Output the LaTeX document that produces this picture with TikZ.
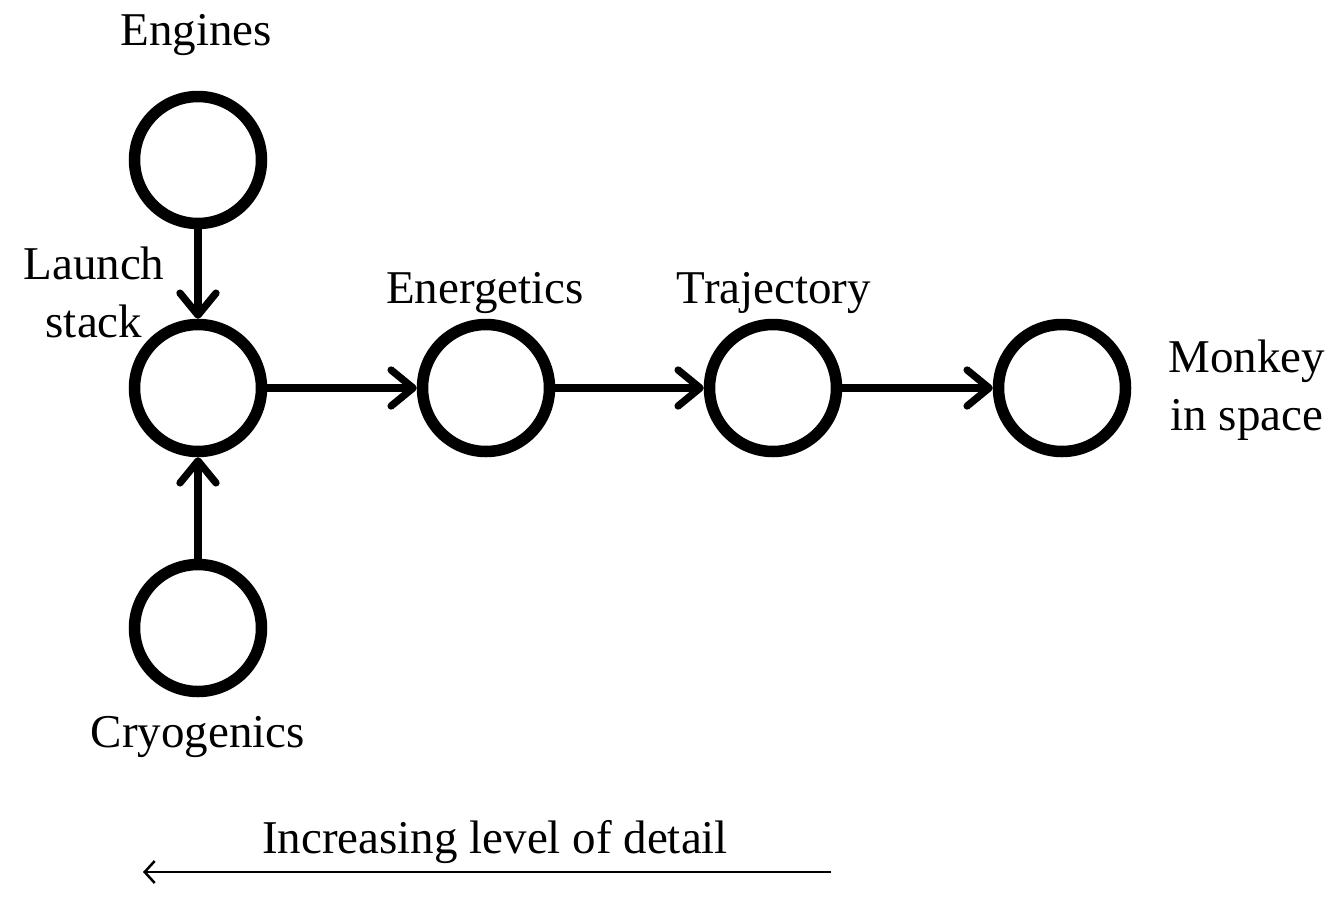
\documentclass[tikz,border=0pt]{standalone}
\usepackage{fontspec}
\setmainfont{Liberation Serif}
\usetikzlibrary{arrows.meta}
\begin{document}
\begin{tikzpicture}[x=1pt,y=-1pt,
  state/.style={draw, circle, line width=11.5pt, minimum size=127pt, inner sep=0pt},
  flow/.style={line width=7.3pt, -{Straight Barb[length=22pt,width=36pt,round]}},
  thinarrow/.style={line width=2.5pt, -{Straight Barb[length=10pt,width=22pt]}},
  lbl/.style={font=\fontsize{47}{58}\selectfont, inner sep=0pt, align=center}
]
\useasboundingbox (0,0) rectangle (1336,905);
\node[state] (eng) at (198,160) {};
\node[state] (ls) at (198,388) {};
\node[state] (cryo) at (198,628) {};
\node[state] (en) at (486,388) {};
\node[state] (tr) at (773,388) {};
\node[state] (mk) at (1062,388) {};
\draw[flow] (eng) -- (ls);
\draw[flow] (cryo) -- (ls);
\draw[flow] (ls) -- (en);
\draw[flow] (en) -- (tr);
\draw[flow] (tr) -- (mk);
\node[lbl, anchor=base] (tEng) at (196,45) {Engines};
\node[lbl] (tLs) at (94,292) {Launch\\stack};
\node[lbl, anchor=base] (tEn) at (485,303) {Energetics};
\node[lbl, anchor=base] (tTr) at (774,303) {Trajectory};
\node[lbl] (tMk) at (1247,390) {Monkey\\in space};
\node[lbl, anchor=base] (tCr) at (198,747) {Cryogenics};
\coordinate (ar) at (831,872);
\coordinate (al) at (143,872);
\draw[thinarrow] (ar) -- (al);
\node[lbl, anchor=base] (tInc) at (495,853) {Increasing level of detail};
\end{tikzpicture}
\end{document}
